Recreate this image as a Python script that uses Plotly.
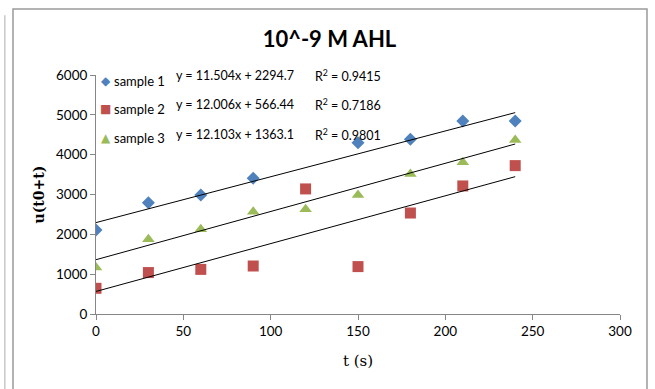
import plotly.graph_objects as go

# Measurement times (s)
t_s1 = [0, 30, 60, 90, 150, 180, 210, 240]
t_all = [0, 30, 60, 90, 120, 150, 180, 210, 240]

# u(t0+t) readings per sample
sample1 = [2110, 2790, 2990, 3410, 4300, 4390, 4845, 4845]
sample2 = [645, 1040, 1120, 1205, 3140, 1190, 2535, 3215, 3725]
sample3 = [1165, 1875, 2125, 2570, 2630, 2990, 3515, 3810, 4370]

names = ["sample 1", "sample 2", "sample 3"]
colors = ["#4F81BD", "#C0504D", "#9BBB59"]
symbols = ["diamond", "square", "triangle-up"]
key_glyphs = ["\u25C6", "\u25A0", "\u25B2"]
sizes = [10, 11, 11]

# Linear trendline coefficients and R^2
slopes = [11.504, 12.006, 12.103]
intercepts = [2294.7, 566.44, 1363.1]
r2 = [0.9415, 0.7186, 0.9801]
fit_range = [0, 240]

x_ticks = [0, 50, 100, 150, 200, 250, 300]
y_ticks = [0, 1000, 2000, 3000, 4000, 5000, 6000]

sans = "Lato, 'Liberation Sans', sans-serif"
serif = "'DejaVu Serif', 'Liberation Serif', serif"

fig = go.Figure()

xs = [t_s1, t_all, t_all]
ys = [sample1, sample2, sample3]
for i in range(3):
    fig.add_trace(go.Scatter(
        x=xs[i], y=ys[i], mode="markers", name=names[i], showlegend=False,
        marker=dict(symbol=symbols[i], size=sizes[i], color=colors[i],
                    line=dict(width=0)),
    ))

for i in range(3):
    fy = [slopes[i] * x + intercepts[i] for x in fit_range]
    fig.add_trace(go.Scatter(
        x=fit_range, y=fy, mode="lines", showlegend=False,
        line=dict(color="black", width=1), hoverinfo="skip",
    ))

# Legend keys, trendline equations and R^2 labels
key_y = [5849, 5146, 4430]
eq_y = [5990, 5247, 4494]
for i in range(3):
    fig.add_annotation(
        x=5.7, y=key_y[i], xref="x", yref="y", xanchor="center", yanchor="middle",
        text=key_glyphs[i], showarrow=False,
        font=dict(family="DejaVu Sans", size=12, color=colors[i]),
    )
    fig.add_annotation(
        x=9.4, y=key_y[i], xref="x", yref="y", xanchor="left", yanchor="middle",
        text=names[i], showarrow=False,
        font=dict(family=sans, size=13, color="black"),
    )
    fig.add_annotation(
        x=44.6, y=eq_y[i], xref="x", yref="y", xanchor="left", yanchor="middle",
        text=f"y = {slopes[i]}x + {intercepts[i]}", showarrow=False,
        font=dict(family=sans, size=12.5, color="black"),
    )
    fig.add_annotation(
        x=124.2, y=eq_y[i], xref="x", yref="y", xanchor="left", yanchor="middle",
        text=f"R<sup>2</sup> = {r2[i]}", showarrow=False,
        font=dict(family=sans, size=12.5, color="black"),
    )

# Chart area border and sheet line
fig.add_shape(type="rect", xref="paper", yref="paper",
              x0=-0.1584, x1=1.0515, y0=-0.4, y1=1.276,
              line=dict(color="#9A9A9A", width=1.5), layer="below")
fig.add_shape(type="line", xref="paper", yref="paper",
              x0=-0.174, x1=-0.174, y0=-0.4, y1=1.25,
              line=dict(color="#C8C8C8", width=1.5), layer="below")

fig.update_layout(
    width=655, height=389,
    margin=dict(l=96, r=35, t=75, b=75),
    paper_bgcolor="white", plot_bgcolor="white",
    title=dict(text="<b>10^-9 M AHL</b>", x=0.503, xref="container", xanchor="center",
               y=0.9, yref="container", yanchor="middle",
               font=dict(family=sans, size=22, color="black")),
    showlegend=False,
    xaxis=dict(range=[0, 300], tickvals=x_ticks, showgrid=False, zeroline=False,
               showline=True, linecolor="#868686", linewidth=1,
               ticks="outside", ticklen=5, tickcolor="#868686",
               tickfont=dict(family=sans, size=13.5, color="black"),
               title=dict(text="t (s)", font=dict(family=serif, size=15, color="black"),
                          standoff=17)),
    yaxis=dict(range=[0, 6000], tickvals=y_ticks, showgrid=False, zeroline=False,
               showline=True, linecolor="#868686", linewidth=1,
               ticks="outside", ticklen=5, tickcolor="#868686",
               tickfont=dict(family=sans, size=13.5, color="black"),
               title=dict(text="<b>u(t0+t)</b>", font=dict(family=serif, size=14, color="black"),
                          standoff=8)),
)

fig.write_html("out.html")
